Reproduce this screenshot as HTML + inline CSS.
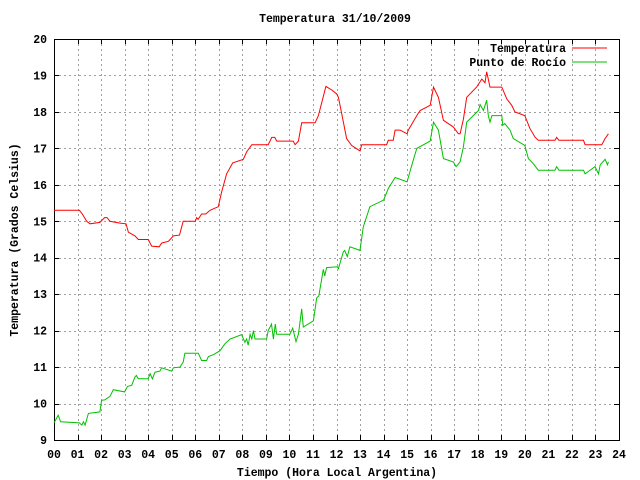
<!DOCTYPE html>
<html><head><meta charset="utf-8"><style>
body{margin:0;background:#fff}
svg{display:block}
text{font-family:"Liberation Mono",monospace;font-size:11.5px;font-weight:bold;fill:#000}
</style></head><body>
<svg id="chart" width="640" height="480" xmlns="http://www.w3.org/2000/svg">
<rect width="640" height="480" fill="#fff"/>
<g id="grid"></g>
<g id="axes"></g>
<g id="series"></g>
<text x="335" y="22" text-anchor="middle">Temperatura 31/10/2009</text>
<text x="337" y="476" text-anchor="middle">Tiempo (Hora Local Argentina)</text>
<text x="0" y="0" text-anchor="middle" transform="translate(18,240) rotate(-90)">Temperatura (Grados Celsius)</text>
<g>
<text x="566" y="52" text-anchor="end">Temperatura</text>
<line x1="572" y1="48" x2="607" y2="48" stroke="#ff0000" stroke-width="1"/>
<text x="566" y="66" text-anchor="end">Punto de Rocío</text>
<line x1="572" y1="62" x2="607" y2="62" stroke="#00c000" stroke-width="1"/>
</g>
</svg>
<script>
const xTicks = ["00","01","02","03","04","05","06","07","08","09","10","11","12","13","14","15","16","17","18","19","20","21","22","23","24"];
const yTicks = [9,10,11,12,13,14,15,16,17,18,19,20];
const tempHours = [0,1.08,1.2,1.39,1.53,1.95,2.15,2.25,2.38,2.8,3.06,3.16,3.44,3.58,4.0,4.15,4.47,4.57,4.86,5.07,5.33,5.49,6.0,6.06,6.12,6.27,6.45,6.63,6.98,7.12,7.33,7.59,8.04,8.18,8.4,9.1,9.25,9.38,9.46,10.16,10.24,10.38,10.52,11.09,11.23,11.55,11.8,12.0,12.08,12.22,12.43,12.64,13.0,13.07,14.13,14.2,14.41,14.49,14.7,15.0,15.05,15.41,15.55,15.98,16.12,16.33,16.54,16.96,17.18,17.25,17.39,17.53,17.95,18.17,18.31,18.38,18.52,19.02,19.23,19.44,19.58,20.0,20.22,20.43,20.57,21.28,21.35,21.45,22.49,22.56,23.27,23.41,23.55];
const tempValues = [15.3,15.3,15.2,15.0,14.93,14.97,15.1,15.1,15.0,14.95,14.93,14.7,14.6,14.5,14.5,14.32,14.3,14.4,14.45,14.6,14.62,15.0,15.0,15.1,15.05,15.2,15.2,15.3,15.4,15.8,16.3,16.6,16.7,16.9,17.1,17.1,17.3,17.3,17.2,17.2,17.1,17.2,17.7,17.7,17.9,18.7,18.6,18.5,18.4,17.95,17.27,17.08,16.93,17.1,17.1,17.22,17.22,17.5,17.5,17.4,17.5,17.9,18.04,18.18,18.68,18.4,17.77,17.59,17.4,17.4,17.8,18.4,18.68,18.9,18.8,19.1,18.68,18.68,18.36,18.18,18.0,17.9,17.54,17.31,17.22,17.22,17.3,17.22,17.22,17.1,17.1,17.27,17.4];
const dewHours = [0,0.18,0.28,1.08,1.18,1.25,1.32,1.46,1.95,2.02,2.16,2.38,2.52,3.0,3.12,3.3,3.44,3.5,3.58,4.0,4.08,4.18,4.29,4.5,4.57,5.0,5.07,5.35,5.49,5.56,6.13,6.27,6.48,6.56,6.77,7.05,7.26,7.48,7.97,8.11,8.18,8.25,8.33,8.4,8.47,8.54,9.03,9.1,9.24,9.32,9.4,9.46,10.02,10.14,10.28,10.38,10.52,10.59,11.02,11.16,11.25,11.44,11.5,11.58,12.04,12.08,12.29,12.35,12.46,12.57,13.0,13.14,13.42,14.0,14.2,14.49,15.0,15.2,15.41,15.98,16.12,16.33,16.54,16.96,17.08,17.25,17.39,17.53,18.03,18.1,18.24,18.38,18.45,18.52,18.6,19.02,19.06,19.15,19.37,19.51,20.0,20.15,20.36,20.57,21.28,21.35,21.45,22.49,22.56,22.98,23.13,23.2,23.41,23.51,23.55];
const dewValues = [9.47,9.68,9.5,9.47,9.41,9.5,9.41,9.73,9.77,10.09,10.1,10.2,10.38,10.32,10.47,10.5,10.73,10.77,10.68,10.68,10.82,10.68,10.86,10.89,10.98,10.89,10.98,11.0,11.14,11.38,11.38,11.18,11.18,11.29,11.34,11.45,11.64,11.77,11.89,11.68,11.77,11.6,11.9,11.77,12.0,11.77,11.77,12.0,12.18,11.77,12.18,11.9,11.9,12.07,11.7,11.9,12.6,12.1,12.27,12.9,12.95,13.68,13.5,13.73,13.75,13.7,14.16,14.2,14.03,14.3,14.2,14.85,15.4,15.58,15.9,16.2,16.08,16.54,17.0,17.2,17.72,17.5,16.72,16.63,16.5,16.63,17.04,17.72,18.04,18.2,18.04,18.32,17.9,17.72,17.9,17.9,17.63,17.68,17.5,17.27,17.08,16.72,16.58,16.4,16.4,16.5,16.4,16.4,16.3,16.5,16.3,16.55,16.7,16.55,16.63];

const L=54,R=619,T=39,B=440;
const xs=h=>L+(R-L)*h/24;
const ys=v=>B-(B-T)*(v-9)/11;
const NS="http://www.w3.org/2000/svg";
function mk(tag,attrs,parent){const e=document.createElementNS(NS,tag);for(const k in attrs)e.setAttribute(k,attrs[k]);parent.appendChild(e);return e;}
const grid=document.getElementById('grid'),axes=document.getElementById('axes'),series=document.getElementById('series');
xTicks.forEach((t,i)=>{
  const x=Math.round(xs(i))+0.5;
  if(i>0&&i<24){const g=mk('line',{x1:x,y1:T,x2:x,y2:B,stroke:'#a0a0a0','stroke-dasharray':'2,3'},grid);
  
  
  mk('line',{x1:x,y1:B,x2:x,y2:B-5,stroke:'#000'},axes);
  mk('line',{x1:x,y1:T,x2:x,y2:T+5,stroke:'#000'},axes);}
  const lb=mk('text',{x:xs(i),y:458,'text-anchor':'middle'},axes);lb.textContent=t;
  
  
});
yTicks.forEach(v=>{
  const y=Math.round(ys(v))+0.5;
  if(v>9&&v<20){const g=mk('line',{x1:L,y1:y,x2:R,y2:y,stroke:'#a0a0a0','stroke-dasharray':'2,3'},grid);
  
  
  mk('line',{x1:L,y1:y,x2:L+5,y2:y,stroke:'#000'},axes);
  mk('line',{x1:R,y1:y,x2:R-5,y2:y,stroke:'#000'},axes);}
  const lb=mk('text',{x:47,y:ys(v)+4,'text-anchor':'end'},axes);lb.textContent=v;
  
  
});
const frame=mk('rect',{x:L+0.5,y:T+0.5,width:R-L,height:B-T,fill:'none',stroke:'#000'},axes);


const pts=(hs,vs)=>hs.map((h,i)=>xs(h).toFixed(1)+','+ys(vs[i]).toFixed(1)).join(' ');
const t=mk('polyline',{points:pts(tempHours,tempValues),fill:'none',stroke:'#ff0000','stroke-width':1},series);


const d=mk('polyline',{points:pts(dewHours,dewValues),fill:'none',stroke:'#00c000','stroke-width':1},series);


</script>
</body></html>
